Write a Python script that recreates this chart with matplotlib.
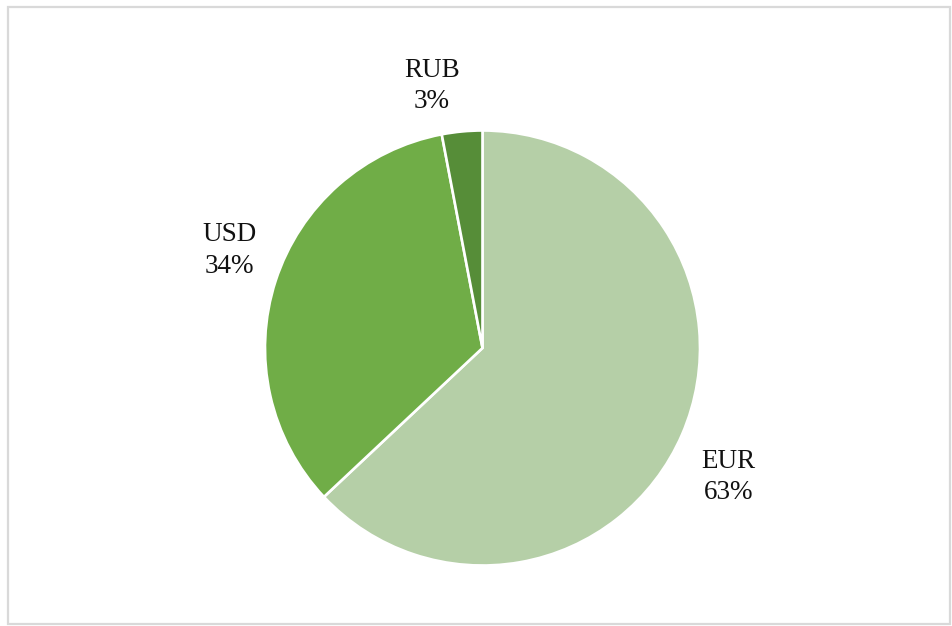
import numpy as np
import matplotlib.pyplot as plt
from matplotlib.patches import Rectangle

plt.rcParams['font.family'] = 'serif'
plt.rcParams['font.serif'] = ['Liberation Serif', 'Times New Roman', 'DejaVu Serif']

currencies = ['EUR', 'USD', 'RUB']
shares = [63, 34, 3]
colors = ['#b5cfa7', '#70ad47', '#568d38']
# angular nudge (deg) and radial distance for each label ("best fit" placement)
label_nudge = [-4.2, -3.1, 5.5]
label_dist = [1.278, 1.246, 1.227]

W, H = 952, 626
fig = plt.figure(figsize=(W / 100, H / 100), dpi=100)
ax = fig.add_axes([0, 0, 1, 1])

# chart-area frame
fig.patches.append(Rectangle((7.5 / W, 2.5 / H), 942.5 / W, 616.5 / H,
                             transform=fig.transFigure, fill=False,
                             edgecolor='#d9d9d9', linewidth=1.6))

cx, cy, r = 482.5, H - 348, 217.5
wedges, _ = ax.pie(shares, colors=colors, startangle=90, counterclock=False,
                   center=(cx, cy), radius=r, frame=True,
                   wedgeprops=dict(edgecolor='white', linewidth=1.9))
ax.set_xlim(0, W)
ax.set_ylim(0, H)
ax.set_aspect('equal')
ax.axis('off')

for w, name, val, nudge, dist in zip(wedges, currencies, shares,
                                     label_nudge, label_dist):
    mid = np.deg2rad((w.theta1 + w.theta2) / 2 + nudge)
    d = r * dist
    ax.text(cx + d * np.cos(mid), cy + d * np.sin(mid), f'{name}\n{val}%',
            ha='center', va='center', fontsize=19.5, linespacing=1.33,
            color='#111111')

fig.savefig('out.png', dpi=100)
